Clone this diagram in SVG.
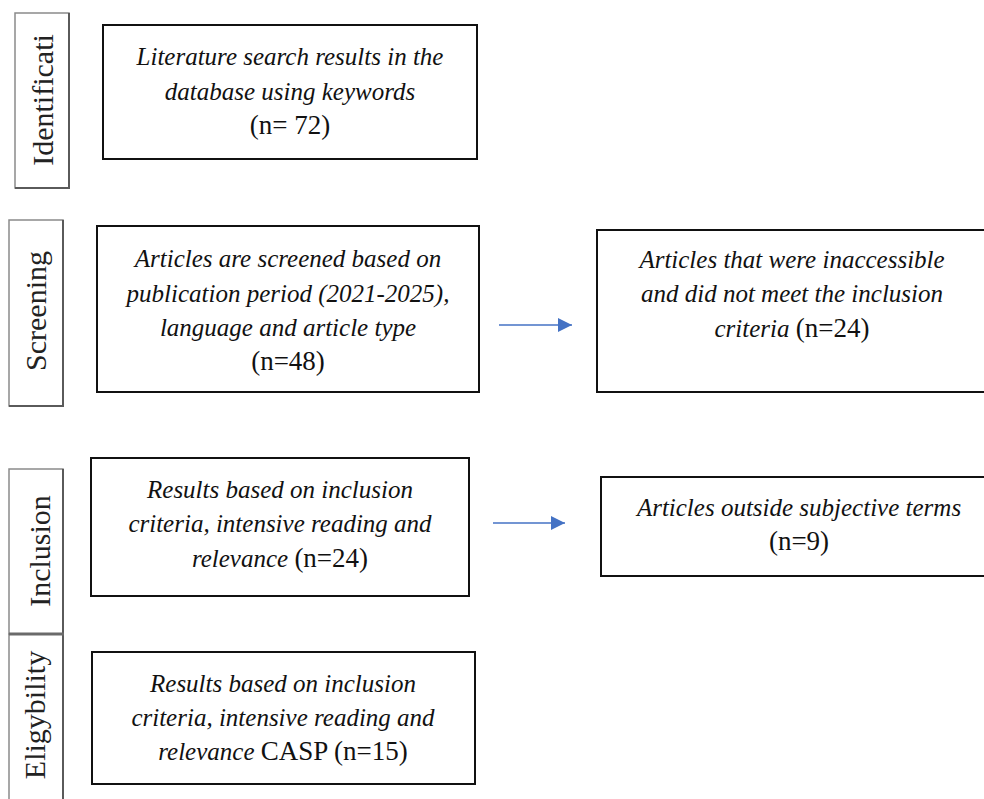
<svg xmlns="http://www.w3.org/2000/svg" width="984" height="799" viewBox="0 0 984 799">
<defs>
<style>
.side{fill:#fff;stroke:#8a8a8a;stroke-width:1.5}
.shadow{stroke:#5a5a5a;stroke-width:2;fill:none}
.box{fill:#fff;stroke:#111;stroke-width:2}
.lab{font-family:"Liberation Serif","Times New Roman",serif;font-size:30px;fill:#222}
.t{font-family:"Liberation Serif","Times New Roman",serif;font-size:25px;font-style:italic;fill:#111;text-anchor:middle}
.r{font-style:normal;font-size:27px}
.arrow{stroke:#4472C4;stroke-width:1.5;fill:none}
</style>
<marker id="ah" viewBox="0 0 10 10" refX="10" refY="5" markerWidth="16" markerHeight="14" markerUnits="userSpaceOnUse" orient="auto">
<path d="M0,0 L10,5 L0,10 Z" fill="#4472C4"/>
</marker>
</defs>

<g id="stage-identification">
<rect class="side" x="15" y="13" width="54" height="175"/>
<path class="shadow" d="M15,188 H69 V13"/>
<text class="lab" transform="translate(53,100) rotate(-90)" text-anchor="middle">Identificati</text>
</g>
<g id="stage-screening">
<rect class="side" x="9" y="220" width="54" height="186"/>
<path class="shadow" d="M9,406 H63 V220"/>
<text class="lab" transform="translate(46,311) rotate(-90)" text-anchor="middle">Screening</text>
</g>
<g id="stage-inclusion">
<rect class="side" x="9" y="469" width="54" height="165"/>
<path class="shadow" d="M63,469 V634"/>
<text class="lab" transform="translate(50,551) rotate(-90)" text-anchor="middle">Inclusion</text>
</g>
<g id="stage-eligibility">
<rect class="side" x="9" y="634" width="54" height="175"/>
<path class="shadow" d="M63,634 V799"/>
<line x1="9" y1="634" x2="64" y2="634" stroke="#6a6a6a" stroke-width="3"/>
<text class="lab" transform="translate(45,715) rotate(-90)" text-anchor="middle">Eligybility</text>
</g>

<g id="node-identification">
<rect class="box" x="103" y="25" width="374" height="134"/>
<text class="t" x="290" y="65">Literature search results in the</text>
<text class="t" x="290" y="100">database using keywords</text>
<text class="t r" x="290" y="134">(n= 72)</text>
</g>

<g id="node-screening">
<rect class="box" x="97" y="226" width="382" height="166"/>
<text class="t" x="288" y="267">Articles are screened based on</text>
<text class="t" x="288" y="302">publication period (2021-2025),</text>
<text class="t" x="288" y="336">language and article type</text>
<text class="t r" x="288" y="370">(n=48)</text>
</g>

<g id="node-excluded-screening">
<rect class="box" x="597" y="230" width="400" height="162"/>
<text class="t" x="792" y="268">Articles that were inaccessible</text>
<text class="t" x="792" y="302">and did not meet the inclusion</text>
<text class="t" x="792" y="337">criteria <tspan class="r">(n=24)</tspan></text>
</g>

<g id="node-inclusion">
<rect class="box" x="91" y="458" width="378" height="138"/>
<text class="t" x="280" y="498">Results based on inclusion</text>
<text class="t" x="280" y="532">criteria, intensive reading and</text>
<text class="t" x="280" y="567">relevance <tspan class="r">(n=24)</tspan></text>
</g>

<g id="node-excluded-inclusion">
<rect class="box" x="601" y="477" width="400" height="99"/>
<text class="t" x="799" y="516">Articles outside subjective terms</text>
<text class="t r" x="799" y="550">(n=9)</text>
</g>

<g id="node-eligibility">
<rect class="box" x="92" y="652" width="383" height="132"/>
<text class="t" x="283" y="692">Results based on inclusion</text>
<text class="t" x="283" y="726">criteria, intensive reading and</text>
<text class="t" x="283" y="760">relevance <tspan class="r">CASP (n=15)</tspan></text>
</g>

<g id="connectors">
<line class="arrow" x1="499" y1="325" x2="572" y2="325" marker-end="url(#ah)"/>
<line class="arrow" x1="493" y1="523" x2="565" y2="523" marker-end="url(#ah)"/>
</g>
</svg>
